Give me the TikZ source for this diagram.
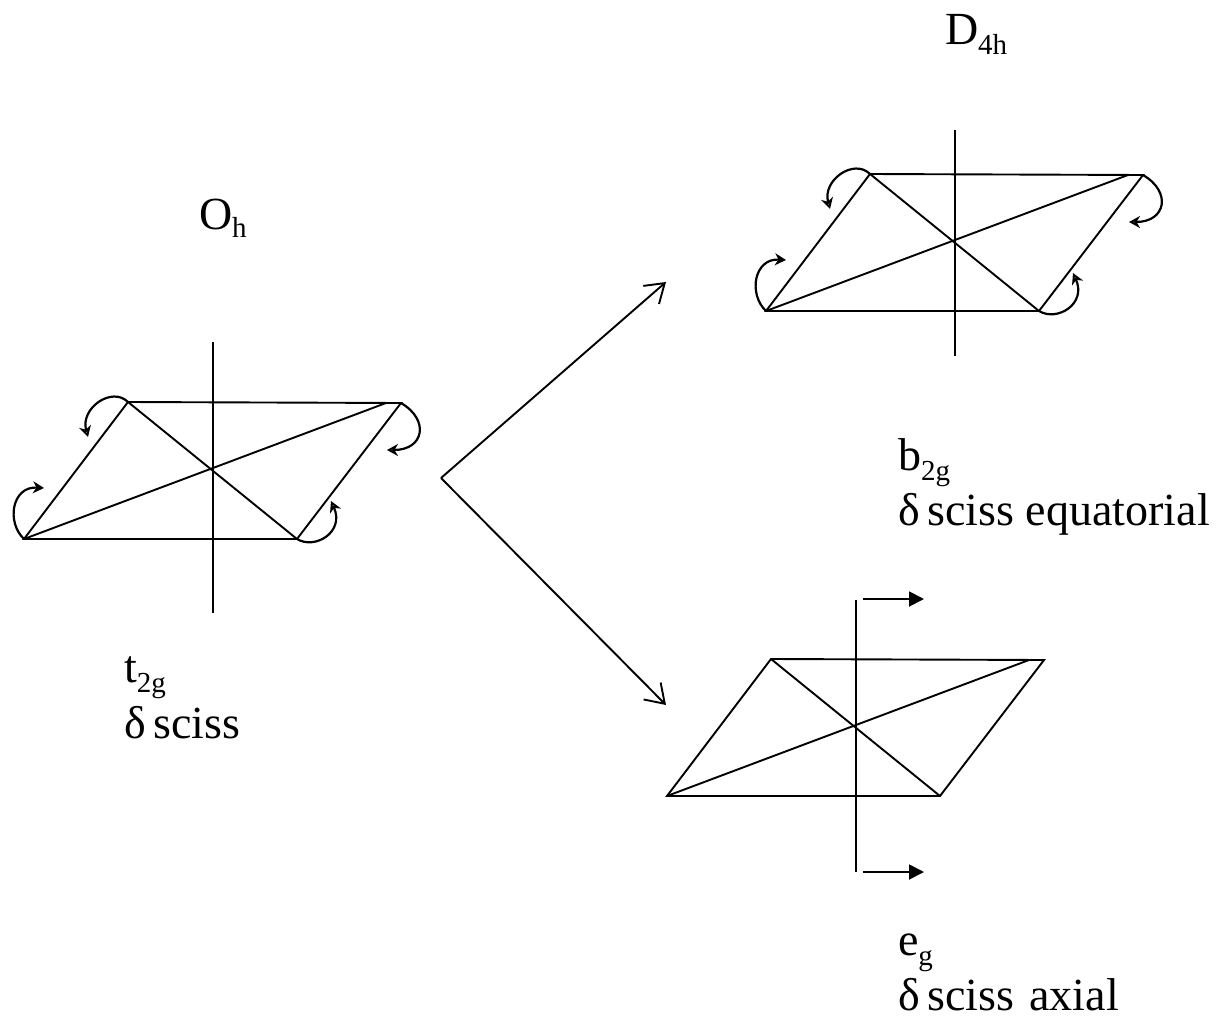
\documentclass[tikz,border=0pt]{standalone}
\usepackage{fontspec}
\setmainfont{Liberation Serif}
\usetikzlibrary{arrows.meta}
\newcommand{\lowsub}[2][10.5pt]{\raisebox{-#1}{\fontsize{29}{29}\selectfont #2}}
\newcommand{\dsp}{δ\hspace{0.17em}}
\definecolor{tipblue}{RGB}{110,150,200}
\tikzset{
  x=1pt,y=-1pt,
  edge/.style={draw=black,line width=1.9pt},
  turnblue/.style={draw=black,line width=2.2pt,-{Stealth[length=11pt,width=12pt,inset=3.5pt,fill=tipblue]}},
  turnblack/.style={draw=black,line width=2.2pt,-{Stealth[length=11pt,width=12pt,inset=3.5pt,fill=black]}},
  branch/.style={draw=black,line width=1.9pt,-{Straight Barb[length=18pt,width=24pt,line width=1.9pt]}},
  push/.style={draw=black,line width=1.9pt,-{Triangle[length=15pt,width=15pt,fill=black]}},
  lab/.style={anchor=base west,inner sep=0pt,outer sep=0pt,font=\fontsize{46}{46}\selectfont},
}
% #1,#2 shift, #3 prefix, #4,#5 axis ends
\newcommand{\octa}[5]{%
  \begin{scope}[shift={(#1,#2)},name prefix=#3]
    \coordinate (a) at (24,539);
    \coordinate (b) at (128,402);
    \coordinate (c) at (401,403);
    \coordinate (e) at (386,403);
    \coordinate (d) at (297,539);
    \coordinate (t) at (213,#4);
    \coordinate (u) at (213,#5);
    \draw[edge] (a) -- (b) -- (c) -- (d) -- cycle;
    \draw[edge] (a) -- (e);
    \draw[edge] (b) -- (d);
    \draw[edge] (t) -- (u);
  \end{scope}}
\newcommand{\turns}[3]{%
  \begin{scope}[shift={(#1,#2)},name prefix=#3]
    \coordinate (p) at (44,488);
    \coordinate (q) at (88,437);
    \coordinate (r) at (387,450);
    \coordinate (s) at (331,501);
    \draw[turnblack] (a) .. controls (6,522) and (12,486) .. (p);
    \draw[turnblue] (b) .. controls (112,386) and (80,408) .. (q);
    \draw[turnblue] (c) .. controls (430,420) and (424,450) .. (r);
    \draw[turnblue] (d) .. controls (315,550) and (345,532) .. (s);
  \end{scope}}
\begin{document}
\begin{tikzpicture}
\useasboundingbox (0,0) rectangle (1216,1017);
\octa{0}{0}{L}{342}{613}
\turns{0}{0}{L}
\octa{742}{-228}{R}{358}{584}
\turns{742}{-228}{R}
\octa{643}{257}{S}{343}{615}
% branching arrows
\coordinate (fork) at (441,478);
\coordinate (upend) at (666,282);
\coordinate (downend) at (666,705);
\draw[branch] (fork) -- (upend);
\draw[branch] (fork) -- (downend);
% displacement arrows
\coordinate (pa) at (863,599);
\coordinate (pb) at (924,599);
\coordinate (pc) at (863,872);
\coordinate (pd) at (924,872);
\draw[push] (pa) -- (pb);
\draw[push] (pc) -- (pd);
% labels
\node[lab] (oh) at (199,229) {O\lowsub[8pt]{h}};
\node[lab] (dfh) at (945,44) {D\lowsub{4h}};
\node[lab] (tg) at (124,682) {t\lowsub{2g}};
\node[lab] (ts) at (124,738) {\dsp sciss};
\node[lab] (bg) at (898,470) {b\lowsub{2g}};
\node[lab] (bs) at (898,525) {\dsp sciss equatorial};
\node[lab] (eg) at (898,955) {e\lowsub{g}};
\node[lab] (es) at (898,1010) {\dsp sciss\hspace{0.33em}axial};
\end{tikzpicture}
\end{document}
